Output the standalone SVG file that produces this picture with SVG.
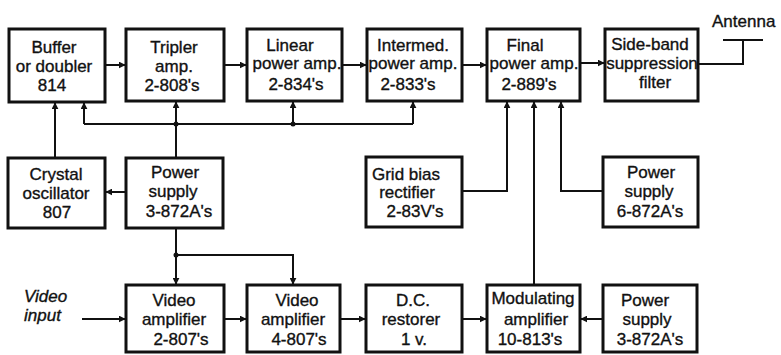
<svg xmlns="http://www.w3.org/2000/svg" width="781" height="355" viewBox="0 0 781 355">
<style>
.box{fill:#fff;stroke:#111;stroke-width:3}
.t{font-family:"Liberation Sans",Arial,sans-serif;font-size:17px;fill:#111;stroke:#111;stroke-width:0.35;text-anchor:middle}
.it{font-style:italic;text-anchor:start}
.c{fill:none;stroke:#111;stroke-width:2}
</style>
<defs>
<marker id="ah" viewBox="0 0 10 10" refX="9" refY="5" markerWidth="7" markerHeight="7" markerUnits="userSpaceOnUse" orient="auto">
<path d="M0,0 L10,5 L0,10 Z" fill="#111"/>
</marker>
</defs>
<rect width="781" height="355" fill="#fff"/>
<g id="connectors">
<line class="c" x1="105" y1="65" x2="125" y2="65" marker-end="url(#ah)"/>
<line class="c" x1="224" y1="65" x2="246" y2="65" marker-end="url(#ah)"/>
<line class="c" x1="342" y1="65" x2="366" y2="65" marker-end="url(#ah)"/>
<line class="c" x1="462" y1="65" x2="486" y2="65" marker-end="url(#ah)"/>
<line class="c" x1="580" y1="63" x2="604" y2="63" marker-end="url(#ah)"/>
<polyline class="c" points="698,64 743,64 743,40"/>
<line class="c" x1="723" y1="40" x2="763" y2="40"/>
<line class="c" x1="84" y1="124" x2="413" y2="124"/>
<line class="c" x1="84" y1="124" x2="84" y2="103" marker-end="url(#ah)"/>
<line class="c" x1="55" y1="158" x2="55" y2="103" marker-end="url(#ah)"/>
<line class="c" x1="176" y1="158" x2="176" y2="102" marker-end="url(#ah)"/>
<line class="c" x1="293" y1="124" x2="293" y2="102" marker-end="url(#ah)"/>
<line class="c" x1="413" y1="124" x2="413" y2="102" marker-end="url(#ah)"/>
<circle cx="176" cy="124" r="2.5" fill="#111"/>
<circle cx="293" cy="124" r="2.5" fill="#111"/>
<line class="c" x1="126" y1="192" x2="106" y2="192" marker-end="url(#ah)"/>
<line class="c" x1="176" y1="228" x2="176" y2="284" marker-end="url(#ah)"/>
<polyline class="c" points="176,255 293,255 293,284" marker-end="url(#ah)"/>
<circle cx="176" cy="255" r="2.5" fill="#111"/>
<line class="c" x1="82" y1="319" x2="125" y2="319" marker-end="url(#ah)"/>
<line class="c" x1="224" y1="319" x2="246" y2="319" marker-end="url(#ah)"/>
<line class="c" x1="340" y1="319" x2="365" y2="319" marker-end="url(#ah)"/>
<line class="c" x1="462" y1="319" x2="486" y2="319" marker-end="url(#ah)"/>
<line class="c" x1="603" y1="319" x2="581" y2="319" marker-end="url(#ah)"/>
<polyline class="c" points="462,191 507,191 507,102" marker-end="url(#ah)"/>
<line class="c" x1="534" y1="285" x2="534" y2="102" marker-end="url(#ah)"/>
<polyline class="c" points="603,191 561,191 561,102" marker-end="url(#ah)"/>
</g>
<g id="buffer"><rect class="box" x="9" y="29" width="96" height="73"/>
<text class="t" x="54" y="53">Buffer</text><text class="t" x="54" y="72">or doubler</text><text class="t" x="52" y="91">814</text></g>
<g id="tripler"><rect class="box" x="126" y="29" width="98" height="72"/>
<text class="t" x="174" y="53">Tripler</text><text class="t" x="174" y="72">amp.</text><text class="t" x="172" y="91">2-808's</text></g>
<g id="linear"><rect class="box" x="247" y="29" width="95" height="72"/>
<text class="t" x="290" y="51">Linear</text><text class="t" x="297" y="69">power amp.</text><text class="t" x="296" y="90">2-834's</text></g>
<g id="intermed"><rect class="box" x="367" y="29" width="95" height="72"/>
<text class="t" x="413" y="51">Intermed.</text><text class="t" x="413" y="69">power amp.</text><text class="t" x="408" y="90">2-833's</text></g>
<g id="final"><rect class="box" x="487" y="29" width="93" height="72"/>
<text class="t" x="525" y="51">Final</text><text class="t" x="534" y="69">power amp.</text><text class="t" x="529" y="90">2-889's</text></g>
<g id="sideband"><rect class="box" x="605" y="29" width="93" height="72"/>
<text class="t" x="650" y="50">Side-band</text><text class="t" x="652" y="69">suppression</text><text class="t" x="655" y="88">filter</text></g>
<g id="antenna"><text class="t" x="712" y="27" style="text-anchor:start">Antenna</text></g>
<g id="crystal"><rect class="box" x="8" y="158" width="97" height="70"/>
<text class="t" x="56" y="180">Crystal</text><text class="t" x="56" y="199">oscillator</text><text class="t" x="57" y="218">807</text></g>
<g id="ps1"><rect class="box" x="126" y="158" width="97" height="70"/>
<text class="t" x="175" y="178">Power</text><text class="t" x="173" y="197">supply</text><text class="t" x="179" y="217">3-872A's</text></g>
<g id="gridbias"><rect class="box" x="366" y="157" width="96" height="70"/>
<text class="t" x="406" y="180">Grid bias</text><text class="t" x="407" y="198">rectifier</text><text class="t" x="415" y="217">2-83V's</text></g>
<g id="ps6"><rect class="box" x="603" y="157" width="95" height="70"/>
<text class="t" x="651" y="178">Power</text><text class="t" x="649" y="197">supply</text><text class="t" x="650" y="217">6-872A's</text></g>
<g id="videoinput"><text class="t it" x="24" y="302">Video</text><text class="t it" x="24" y="321">input</text></g>
<g id="video2"><rect class="box" x="126" y="285" width="98" height="67"/>
<text class="t" x="174" y="306">Video</text><text class="t" x="174" y="325">amplifier</text><text class="t" x="181" y="345">2-807's</text></g>
<g id="video4"><rect class="box" x="247" y="285" width="93" height="67"/>
<text class="t" x="297" y="306">Video</text><text class="t" x="293" y="325">amplifier</text><text class="t" x="299" y="345">4-807's</text></g>
<g id="dcrestorer"><rect class="box" x="366" y="285" width="96" height="67"/>
<text class="t" x="413" y="306">D.C.</text><text class="t" x="411" y="325">restorer</text><text class="t" x="414" y="345">1 v.</text></g>
<g id="modulating"><rect class="box" x="487" y="285" width="93" height="67"/>
<text class="t" x="533" y="304">Modulating</text><text class="t" x="536" y="325">amplifier</text><text class="t" x="530" y="345">10-813's</text></g>
<g id="ps3"><rect class="box" x="603" y="285" width="94" height="67"/>
<text class="t" x="645" y="306">Power</text><text class="t" x="647" y="325">supply</text><text class="t" x="650" y="345">3-872A's</text></g>
</svg>
